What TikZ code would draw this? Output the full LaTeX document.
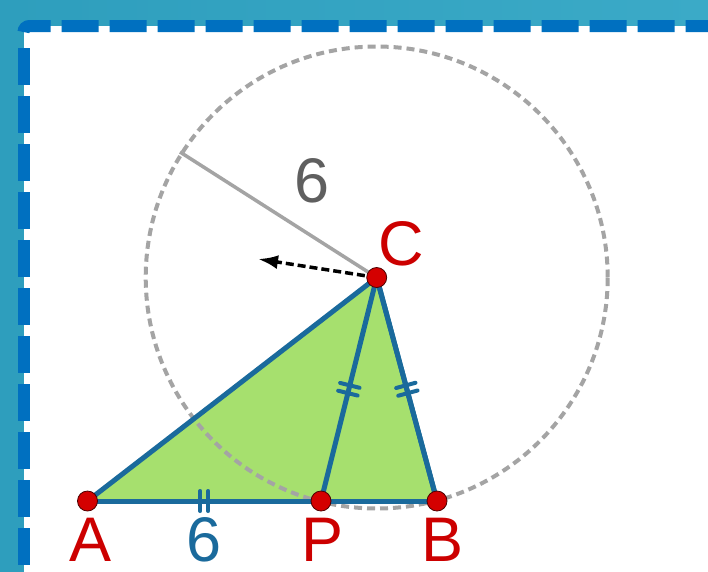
\documentclass[tikz,border=0pt]{standalone}
\usepackage{fontspec}
\setmainfont{Liberation Sans}
\usetikzlibrary{arrows.meta,decorations.markings}
\definecolor{bgL}{HTML}{2E9EBD}
\definecolor{bgR}{HTML}{3BAAC7}
\definecolor{panelblue}{HTML}{0070C0}
\definecolor{edgeblue}{HTML}{1A6A9C}
\definecolor{trifill}{HTML}{A6E06E}
\definecolor{ptred}{HTML}{D40000}
\definecolor{labred}{HTML}{CC0000}
\definecolor{circgray}{HTML}{A4A4A4}
\definecolor{numgray}{HTML}{5F5F5F}
\tikzset{
  panelborder/.style={draw=panelblue, line width=12pt},
  circ/.style={draw=circgray, line width=4pt, dash pattern=on 8pt off 5pt},
  radline/.style={draw=circgray, line width=3.5pt},
  edge/.style={draw=edgeblue, line width=5pt, line cap=round, line join=round},
  twoticks/.style={postaction={decorate, decoration={markings,
     mark=at position 0.5 with {\draw[edgeblue, line width=4pt] (-4,-10) -- (-4,10) (4,-10) -- (4,10);}}}},
  arr/.style={draw=black, line width=3.5pt, dash pattern=on 8pt off 4pt, -{Latex[length=20pt,width=14pt]}},
  dot/.style={circle, fill=ptred, draw=black!70!red, line width=0.8pt, minimum size=20pt, inner sep=0pt},
  lab/.style={inner sep=0pt, font=\fontsize{63}{63}\selectfont}
}
\begin{document}
\begin{tikzpicture}[x=1pt,y=-1pt]
\useasboundingbox (0,0) rectangle (708,571);
\shade[left color=bgL,right color=bgR] (0,0) rectangle (708,571);
\fill[white] (23.5,26) rectangle (720,590);
\draw[panelborder, dash pattern=on 37pt off 11pt, dash phase=6.5pt, rounded corners=6pt] (23.5,32) -- (23.5,26) -- (720,26);
\draw[panelborder, dash pattern=on 37pt off 11pt, dash phase=37pt] (23.5,37) -- (23.5,600);
% points
\coordinate (A) at (87.5,501);
\coordinate (P) at (321,501);
\coordinate (B) at (437,501);
\coordinate (C) at (376.7,277.5);
\coordinate (R) at (180,152);
\coordinate (T) at (258,259);
% triangle fill
\fill[trifill] (A) -- (B) -- (C) -- cycle;
% circle and radius
\draw[circ] (C) circle[radius=231pt];
\draw[radline] (C) -- (R);
% edges
\draw[edge, twoticks] (A) -- (P);
\draw[edge] (P) -- (B);
\draw[edge] (B) -- (C);
\draw[edge] (C) -- (A);
\draw[edge, twoticks] (C) -- (P);
\draw[edge, twoticks] (C) -- (B);
% arrow
\draw[arr] (C) -- (T);
% dots
\node[dot] (dA) at (A) {};
\node[dot] (dP) at (P) {};
\node[dot] (dB) at (B) {};
\node[dot] (dC) at (C) {};
% labels
\node[lab, text=labred] (lA) at (91,540) {A};
\node[lab, text=edgeblue] (l6) at (204,540) {6};
\node[lab, text=labred] (lP) at (323,540) {P};
\node[lab, text=labred] (lB) at (443,540) {B};
\node[lab, text=labred] (lC) at (401,244) {C};
\node[lab, text=numgray] (lr) at (312,181) {6};
\end{tikzpicture}
\end{document}
